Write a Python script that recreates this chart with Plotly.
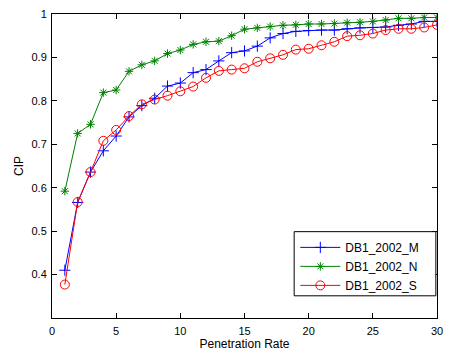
import plotly.graph_objects as go

x = list(range(1, 31))
db_m = [0.410, 0.566, 0.636, 0.685, 0.719, 0.763, 0.789, 0.806, 0.834, 0.841,
        0.865, 0.872, 0.892, 0.911, 0.915, 0.926, 0.945, 0.955, 0.960, 0.962,
        0.963, 0.963, 0.966, 0.968, 0.969, 0.970, 0.974, 0.977, 0.983, 0.983]
db_n = [0.592, 0.725, 0.746, 0.819, 0.825, 0.868, 0.883, 0.892, 0.909, 0.917,
        0.930, 0.936, 0.9375, 0.950, 0.965, 0.968, 0.971, 0.974, 0.975, 0.977,
        0.977, 0.978, 0.980, 0.981, 0.983, 0.986, 0.990, 0.990, 0.992, 0.992]
db_s = [0.377, 0.567, 0.636, 0.708, 0.733, 0.765, 0.792, 0.803, 0.812, 0.822,
        0.833, 0.853, 0.869, 0.872, 0.875, 0.890, 0.898, 0.906, 0.918, 0.920,
        0.928, 0.936, 0.949, 0.951, 0.955, 0.963, 0.966, 0.966, 0.969, 0.975]
names = ["DB1_2002_M", "DB1_2002_N", "DB1_2002_S"]
x_ticks = [0, 5, 10, 15, 20, 25, 30]
y_ticks = [0.4, 0.5, 0.6, 0.7, 0.8, 0.9, 1]

FONT = "Liberation Sans, Arial, sans-serif"
fig = go.Figure()
styles = [("#0000ff", "cross-thin-open", 8), ("#008000", "asterisk-open", 7), ("#ff0000", "circle-open", 9)]
for name, ys, (c, sym, sz) in zip(names, [db_m, db_n, db_s], styles):
    fig.add_trace(go.Scatter(
        x=x, y=ys, name=name, mode="lines+markers",
        line=dict(color=c, width=1),
        marker=dict(symbol=sym, size=sz, color=c, line=dict(color=c, width=1)),
    ))

axis_common = dict(
    showgrid=False, zeroline=False, showline=True, linecolor="black", linewidth=1,
    mirror="ticks", ticks="inside", ticklen=5, tickcolor="black",
    tickfont=dict(family=FONT, size=11, color="black"), ticklabelstandoff=3,
)
fig.update_xaxes(range=[0, 30], tickvals=x_ticks, title=dict(text="Penetration Rate", standoff=2,
                 font=dict(family=FONT, size=12, color="black")), **axis_common)
fig.update_yaxes(range=[0.3, 1], tickvals=y_ticks, ticktext=["0.4", "0.5", "0.6", "0.7", "0.8", "0.9", "1"],
                 title=dict(text="CIP", standoff=5,
                 font=dict(family=FONT, size=12, color="black")), **axis_common)
fig.update_yaxes(ticklabelstandoff=2)

# legend frame (MATLAB-style box, wider than plotly's auto-sized legend)
fig.add_shape(type="rect", xref="paper", yref="paper", x0=0.629, x1=0.997, y0=0.073, y1=0.284,
              line=dict(color="black", width=1), fillcolor="white", layer="above")

fig.update_layout(
    width=451, height=356,
    margin=dict(l=52, r=8, t=12, b=36),
    plot_bgcolor="white", paper_bgcolor="white",
    showlegend=True,
    legend=dict(x=0.632, y=0.28, xanchor="left", yanchor="top",
                borderwidth=0, bgcolor="rgba(0,0,0,0)",
                font=dict(family=FONT, size=12, color="black"),
                tracegroupgap=0, itemwidth=40),
)
fig.write_html("out.html")
